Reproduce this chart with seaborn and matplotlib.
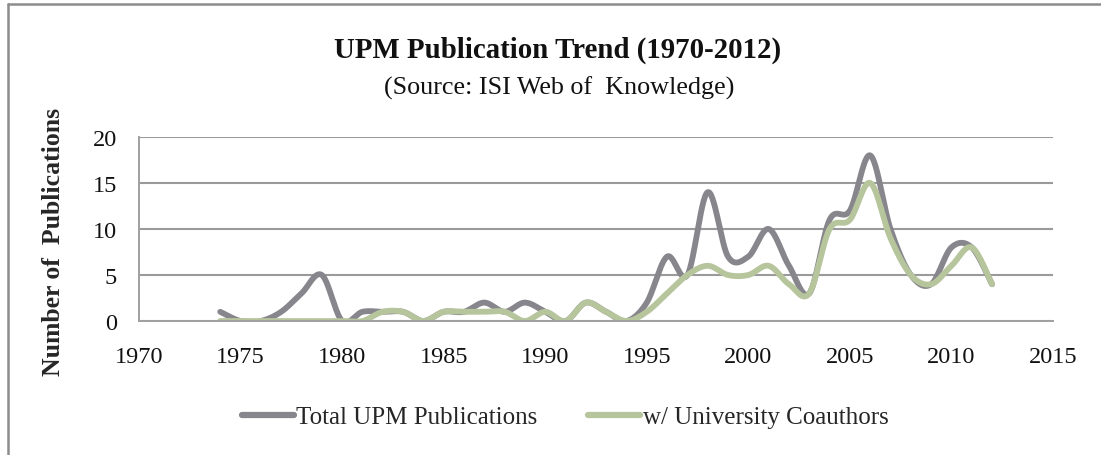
import numpy as np
import pandas as pd
import matplotlib
matplotlib.use("Agg")
import matplotlib.pyplot as plt
from matplotlib.lines import Line2D
import seaborn as sns

# Yearly publication counts
years = list(range(1974, 2013))
total_upm = [1, 0, 0, 1, 3, 5, 0, 1, 1, 1, 0, 1, 1, 2, 1, 2, 1, 0, 2, 1,
             0, 2, 7, 5, 14, 7, 7, 10, 6, 3, 11, 12, 18, 10, 5, 4, 8, 8, 4]
univ_coauth = [0, 0, 0, 0, 0, 0, 0, 0, 1, 1, 0, 1, 1, 1, 1, 0, 1, 0, 2, 1,
               0, 1, 3, 5, 6, 5, 5, 6, 4, 3, 10, 11, 15, 9, 5, 4, 6, 8, 4]
series_names = ["Total UPM Publications", "w/ University Coauthors"]
x_ticks = list(range(1970, 2016, 5))
y_ticks = [0, 5, 10, 15, 20]

GRAY = "#86868c"
GREEN = "#b6c59c"


def smooth(xs, ys, n=30):
    """Bezier smoothing through every point (Catmull-Rom style)."""
    xs = np.asarray(xs, float)
    ys = np.asarray(ys, float)
    px = np.concatenate([[xs[0]], xs, [xs[-1]]])
    py = np.concatenate([[ys[0]], ys, [ys[-1]]])
    outx, outy = [], []
    t = np.linspace(0, 1, n, endpoint=False)
    for i in range(1, len(px) - 2):
        x0, x3 = px[i], px[i + 1]
        y0, y3 = py[i], py[i + 1]
        x1 = x0 + (px[i + 1] - px[i - 1]) / 6
        y1 = y0 + (py[i + 1] - py[i - 1]) / 6
        x2 = x3 - (px[i + 2] - px[i]) / 6
        y2 = y3 - (py[i + 2] - py[i]) / 6
        b0 = (1 - t) ** 3
        b1 = 3 * (1 - t) ** 2 * t
        b2 = 3 * (1 - t) * t ** 2
        b3 = t ** 3
        outx.extend(b0 * x0 + b1 * x1 + b2 * x2 + b3 * x3)
        outy.extend(b0 * y0 + b1 * y1 + b2 * y2 + b3 * y3)
    outx.append(xs[-1])
    outy.append(ys[-1])
    return np.array(outx), np.array(outy)


frames = []
for name, vals in zip(series_names, [total_upm, univ_coauth]):
    sx, sy = smooth(years, vals)
    frames.append(pd.DataFrame({"year": sx, "count": sy, "series": name,
                                "order": np.arange(len(sx))}))
df = pd.concat(frames, ignore_index=True)

sns.set_theme(style="white")
plt.rcParams["font.family"] = ["Liberation Serif", "DejaVu Serif"]

fig = plt.figure(figsize=(11.01, 4.56), dpi=100)
ax = fig.add_axes([139 / 1101, 1 - 322 / 456, (1053 - 139) / 1101, (322 - 138) / 456])

sns.lineplot(data=df, x="year", y="count", hue="series", hue_order=series_names,
             palette=[GRAY, GREEN], units="series", estimator=None, sort=False,
             linewidth=4.2, ax=ax, legend=False, solid_capstyle="round")

ax.set_xlim(1970, 2015)
ax.set_ylim(0, 20)
ax.set_xticks(x_ticks)
ax.set_yticks(y_ticks)
ax.set_xticklabels([str(v) for v in x_ticks], fontsize=17.5)
ax.set_yticklabels([str(v) for v in y_ticks], fontsize=17.5)
ax.yaxis.grid(True, color="#9a9a9a", linewidth=1.5)
ax.set_axisbelow(True)
for s in ["top", "right"]:
    ax.spines[s].set_visible(False)
for s in ["left", "bottom"]:
    ax.spines[s].set_color("#a0a0a0")
    ax.spines[s].set_linewidth(1.4)
ax.tick_params(axis="both", direction="out", length=5, width=1.3, color="#a0a0a0",
               labelcolor="#111111")
ax.tick_params(axis="y", pad=11)
ax.tick_params(axis="x", pad=13)
ax.set_xlabel("")
ax.set_ylabel("Number of  Publications", fontsize=18.5, fontweight="bold")
ax.yaxis.set_label_coords(-(139 - 65) / 914, (322 - 242) / 184)

fig.text(0.506, 1 - 50 / 456, "UPM Publication Trend (1970-2012)", ha="center",
         va="center", fontsize=20.8, fontweight="bold", color="#111111")
fig.text(0.508, 1 - 88 / 456, "(Source: ISI Web of  Knowledge)", ha="center",
         va="center", fontsize=18.8, color="#111111")

handles = [Line2D([0], [0], color=GRAY, linewidth=4.5),
           Line2D([0], [0], color=GREEN, linewidth=4.5)]
fig.legend(handles, series_names, loc="center", bbox_to_anchor=(565 / 1101, 1 - 418 / 456),
           ncol=2, frameon=False, fontsize=18, handlelength=2.1, handletextpad=0.1,
           columnspacing=2.0, borderpad=0, borderaxespad=0)

# Chart frame
fig.add_artist(Line2D([8 / 1101, 8 / 1101], [0, 1 - 5 / 456], transform=fig.transFigure,
                      color="#8c8c8c", linewidth=1.8))
fig.add_artist(Line2D([8 / 1101, 1], [1 - 5 / 456, 1 - 5 / 456], transform=fig.transFigure,
                      color="#8c8c8c", linewidth=1.8))

fig.savefig("out.png", dpi=100)
